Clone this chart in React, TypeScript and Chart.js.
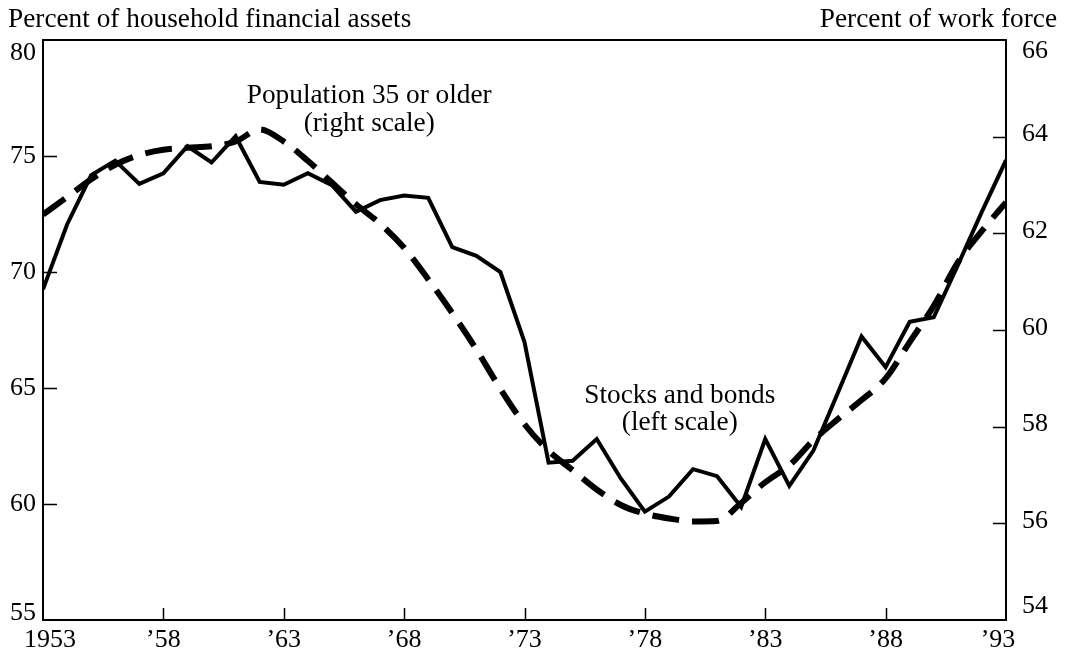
import React, { useEffect, useRef } from "react";
import { Chart, registerables } from "chart.js";

Chart.register(...registerables);

const years: number[] = [
  1953, 1954, 1955, 1956, 1957, 1958, 1959, 1960, 1961, 1962,
  1963, 1964, 1965, 1966, 1967, 1968, 1969, 1970, 1971, 1972,
  1973, 1974, 1975, 1976, 1977, 1978, 1979, 1980, 1981, 1982,
  1983, 1984, 1985, 1986, 1987, 1988, 1989, 1990, 1991, 1992, 1993,
];

// Stocks and bonds, percent of household financial assets (left scale)
const stocksBonds: number[] = [
  69.25, 72.05, 74.17, 74.8, 73.8, 74.25, 75.42, 74.72, 75.85, 73.88,
  73.76, 74.26, 73.74, 72.6, 73.1, 73.3, 73.2, 71.07, 70.7, 70.0,
  66.98, 61.78, 61.86, 62.8, 61.1, 59.67, 60.32, 61.5, 61.2, 59.87,
  62.8, 60.78, 62.3, 64.75, 67.22, 65.9, 67.85, 68.05, 70.3, 72.6, 74.82,
];

// Population 35 or older, percent of work force (right scale)
const population35: number[] = [
  62.39, 62.75, 63.12, 63.42, 63.62, 63.73, 63.77, 63.8, 63.9, 64.15,
  63.9, 63.5, 63.05, 62.6, 62.2, 61.7, 61.05, 60.35, 59.6, 58.78,
  58.05, 57.5, 57.1, 56.7, 56.38, 56.2, 56.1, 56.04, 56.05, 56.42,
  56.85, 57.2, 57.72, 58.15, 58.55, 59.0, 59.75, 60.5, 61.4, 62.05, 62.64,
];

const leftTicks: number[] = [55, 60, 65, 70, 75, 80];
const rightTicks: number[] = [54, 56, 58, 60, 62, 64, 66];
const xTicks: number[] = [1953, 1958, 1963, 1968, 1973, 1978, 1983, 1988, 1993];
const xTickLabels: string[] = ["1953", "\u201958", "\u201963", "\u201968", "\u201973", "\u201978", "\u201983", "\u201988", "\u201993"];

const leftTitle = "Percent of household financial assets";
const rightTitle = "Percent of work force";
const popLabel: string[] = ["Population 35 or older", "(right scale)"];
const stockLabel: string[] = ["Stocks and bonds", "(left scale)"];

const FONT = '"Liberation Serif", "Times New Roman", serif';

export default function App() {
  const ref = useRef<HTMLCanvasElement | null>(null);

  useEffect(() => {
    document.body.style.margin = "0";
    const canvas = ref.current;
    if (!canvas) return;

    const overlay = {
      id: "overlay",
      afterDraw(chart: any) {
        const ctx = chart.ctx as CanvasRenderingContext2D;
        const area = chart.chartArea;
        const xs = chart.scales.x;
        const yl = chart.scales.y;
        const yr = chart.scales.y1;
        ctx.save();
        ctx.strokeStyle = "#000";
        ctx.fillStyle = "#000";

        // frame
        ctx.lineWidth = 2;
        ctx.strokeRect(area.left, area.top, area.right - area.left, area.bottom - area.top);

        // tick marks (inside)
        ctx.lineWidth = 1.5;
        ctx.beginPath();
        leftTicks.forEach((v) => {
          if (v === 55 || v === 80) return;
          const y = Math.round(yl.getPixelForValue(v)) + 0.5;
          ctx.moveTo(area.left, y);
          ctx.lineTo(area.left + 14, y);
        });
        rightTicks.forEach((v) => {
          if (v === 54 || v === 66) return;
          const y = Math.round(yr.getPixelForValue(v)) + 0.5;
          ctx.moveTo(area.right, y);
          ctx.lineTo(area.right - 13, y);
        });
        xTicks.forEach((v, i) => {
          if (i === 0 || i === xTicks.length - 1) return;
          const x = Math.round(xs.getPixelForValue(v)) + 0.5;
          ctx.moveTo(x, area.bottom);
          ctx.lineTo(x, area.bottom - 12);
        });
        ctx.stroke();

        // tick labels
        ctx.font = `26px ${FONT}`;
        ctx.textBaseline = "middle";
        ctx.textAlign = "right";
        leftTicks.forEach((v) => {
          let y = yl.getPixelForValue(v);
          if (v === 80) y += 13;
          if (v === 55) y -= 7;
          ctx.fillText(String(v), area.left - 7, y);
        });
        ctx.textAlign = "left";
        rightTicks.forEach((v) => {
          let y = yr.getPixelForValue(v) - 2;
          if (v === 66) y += 13;
          if (v === 54) y -= 12;
          ctx.fillText(String(v), area.right + 16, y);
        });
        ctx.textAlign = "center";
        ctx.textBaseline = "alphabetic";
        xTicks.forEach((v, i) => {
          let x = xs.getPixelForValue(v);
          if (i === 0) x += 7;
          if (i === xTicks.length - 1) x -= 8;
          ctx.fillText(xTickLabels[i], x, area.bottom + 27);
        });

        // axis titles
        ctx.font = `27.3px ${FONT}`;
        ctx.textAlign = "left";
        ctx.fillText(leftTitle, 8, 27);
        ctx.textAlign = "right";
        ctx.fillText(rightTitle, 1057, 27);

        // series annotations
        ctx.textAlign = "center";
        const px = xs.getPixelForValue(1966.55);
        ctx.fillText(popLabel[0], px, 103);
        ctx.fillText(popLabel[1], px, 131);
        const sx = xs.getPixelForValue(1979.45);
        ctx.fillText(stockLabel[0], sx, 403);
        ctx.fillText(stockLabel[1], sx, 430);
        ctx.restore();
      },
    };

    const chart = new Chart(canvas, {
      type: "line",
      data: {
        datasets: [
          {
            label: "Stocks and bonds",
            data: years.map((y, i) => ({ x: y, y: stocksBonds[i] })),
            yAxisID: "y",
            borderColor: "#000",
            borderWidth: 4,
            borderJoinStyle: "miter",
            pointRadius: 0,
            tension: 0,
            fill: false,
          },
          {
            label: "Population 35 or older",
            data: years.map((y, i) => ({ x: y, y: population35[i] })),
            yAxisID: "y1",
            borderColor: "#000",
            borderWidth: 6,
            borderDash: [27, 13],
            borderCapStyle: "butt",
            pointRadius: 0,
            cubicInterpolationMode: "monotone",
            fill: false,
          },
        ],
      },
      options: {
        animation: false,
        responsive: false,
        maintainAspectRatio: false,
        layout: { padding: { top: 40, left: 0, right: 0, bottom: 0 } },
        plugins: { legend: { display: false }, tooltip: { enabled: false }, title: { display: false } },
        scales: {
          x: {
            type: "linear",
            min: 1953,
            max: 1993,
            ticks: { display: false },
            grid: { display: false },
            border: { display: false },
            afterFit: (s: any) => { s.height = 34; },
          },
          y: {
            position: "left",
            min: 55,
            max: 80,
            ticks: { display: false },
            grid: { display: false },
            border: { display: false },
            afterFit: (s: any) => { s.width = 43; },
          },
          y1: {
            position: "right",
            min: 54,
            max: 66,
            ticks: { display: false },
            grid: { display: false },
            border: { display: false },
            afterFit: (s: any) => { s.width = 59; },
          },
        },
      } as any,
      plugins: [overlay],
    });

    return () => chart.destroy();
  }, []);

  return (
    <div style={{ width: 1065, height: 654, background: "#fff" }}>
      <canvas ref={ref} width={1065} height={654} style={{ display: "block", width: 1065, height: 654 }} />
    </div>
  );
}
